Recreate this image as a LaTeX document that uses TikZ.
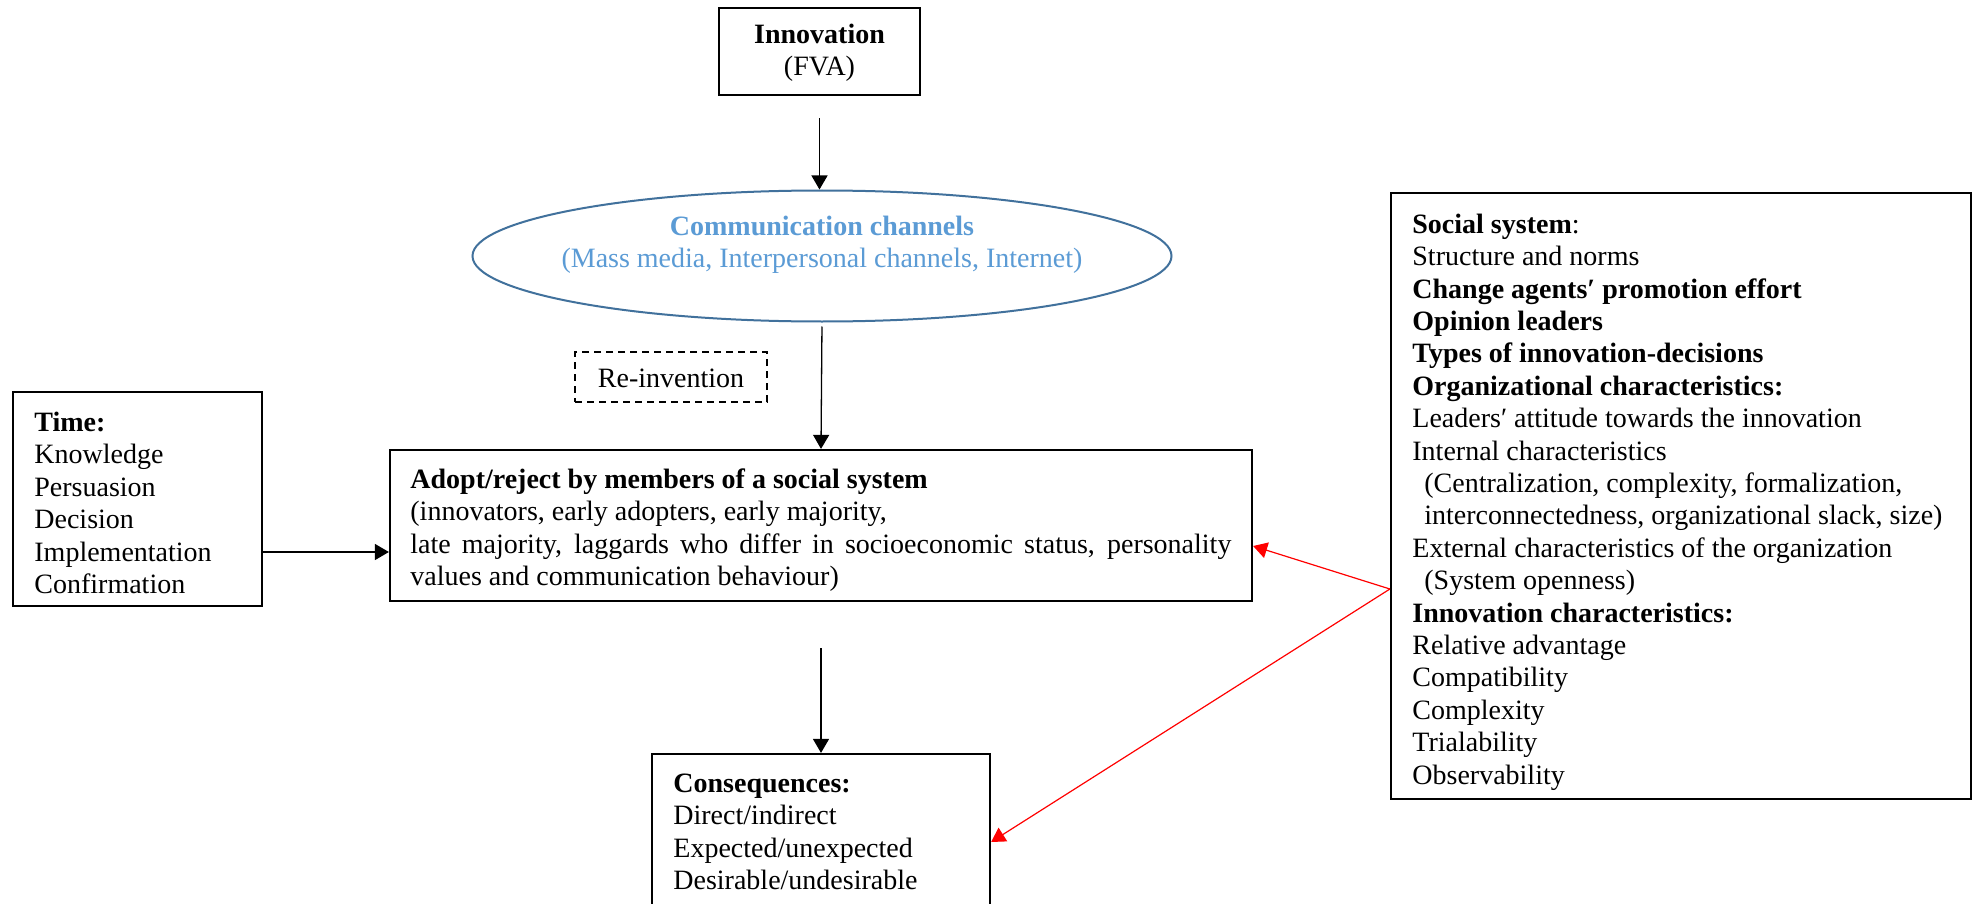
\documentclass[tikz,border=0pt]{standalone}
\usepackage{fontspec}
\setmainfont{Liberation Serif}
\usetikzlibrary{shapes.geometric,arrows.meta}
\definecolor{ellborder}{HTML}{41719C}
\definecolor{elltext}{HTML}{5B9BD5}
\definecolor{redline}{HTML}{FF0000}
\tikzset{
  txt/.style={font=\fontsize{14pt}{16.2pt}\selectfont, inner sep=0pt},
  box/.style={draw=black, line width=1.1pt, inner sep=0pt},
  dbox/.style={draw=black, line width=0.8pt, dash pattern=on 3.5pt off 2.5pt, inner sep=0pt},
  arr/.style={draw=black, line width=0.65pt, -{Triangle[length=7pt,width=8pt]}},
  redarr/.style={draw=redline, line width=0.6pt, -{Triangle[length=7pt,width=8pt]}},
}
\begin{document}
\begin{tikzpicture}[x=0.5pt,y=-0.5pt]
\clip (0,0) rectangle (1977,904);
\fill[white] (0,0) rectangle (1977,904);
% Innovation
\node[box, minimum width=100.5pt, minimum height=43.5pt] (innov) at (819.5,51.5) {};
\node[txt, align=center] (innovtxt) at (819.5,53) {\textbf{Innovation}\\(FVA)};
% Communication channels
\node[ellipse, draw=ellborder, line width=1pt, minimum width=349.5pt, minimum height=65.5pt, inner sep=0pt] (comm) at (822,256) {};
\node[txt, align=center, text=elltext] (commtxt) at (822,245) {\textbf{Communication channels}\\(Mass media, Interpersonal channels, Internet)};
% Re-invention
\node[dbox, minimum width=96pt, minimum height=25pt] (reinv) at (671,377) {};
\node[txt] (reinvtxt) at (671,378) {Re-invention};
% Time
\node[box, minimum width=124.5pt, minimum height=107pt] (time) at (137.5,499) {};
\node[txt, align=left, anchor=west] (timetxt) at (34,503) {\textbf{Time:}\\Knowledge\\Persuasion\\Decision\\Implementation\\Confirmation};
% Adopt/reject
\node[box, minimum width=431pt, minimum height=75.5pt] (adopt) at (821,525.5) {};
\node[txt, align=left, anchor=west] (adopttxt) at (410,530) {\textbf{Adopt/reject by members of a social system}\\(innovators, early adopters, early majority,\\\makebox[410.5pt][s]{late majority, laggards who differ in socioeconomic status, personality}\\values and communication behaviour)};
% Consequences
\node[box, minimum width=169pt, minimum height=88pt] (cons) at (821,842) {};
\node[txt, align=left, anchor=west] (constxt) at (673,832) {\textbf{Consequences:}\\Direct/indirect\\Expected/unexpected\\Desirable/undesirable};
% Social system
\node[box, minimum width=290pt, minimum height=303pt] (soc) at (1681,496) {};
\node[txt, align=left, anchor=west] (soctxt) at (1412,502) {\textbf{Social system}:\\Structure and norms\\\textbf{Change agents′ promotion effort}\\\textbf{Opinion leaders}\\\textbf{Types of innovation-decisions}\\\textbf{Organizational characteristics:}\\Leaders′ attitude towards the innovation\\Internal characteristics\\\hspace*{6pt}(Centralization, complexity, formalization,\\\hspace*{6pt}interconnectedness, organizational slack, size)\\External characteristics of the organization\\\hspace*{6pt}(System openness)\\\textbf{Innovation characteristics:}\\Relative advantage\\Compatibility\\Complexity\\Trialability\\Observability};
% connectors
\draw[arr, shorten <=11pt] (innov.south) -- (innov.south |- comm.north);
\draw[arr, shorten <=2pt] (comm.south) -- (adopt.north);
\draw[arr, shorten <=23pt] (adopt.south) -- (cons.north);
\coordinate (tA) at ([yshift=-26.5pt]time.east);
\draw[arr] (tA) -- (tA -| adopt.west);
\coordinate (sA) at ([yshift=-46.5pt]soc.west);
\draw[redarr] (sA) -- ([yshift=-10.25pt]adopt.east);
\draw[redarr] (sA) -- (cons.east);
\end{tikzpicture}
\end{document}
